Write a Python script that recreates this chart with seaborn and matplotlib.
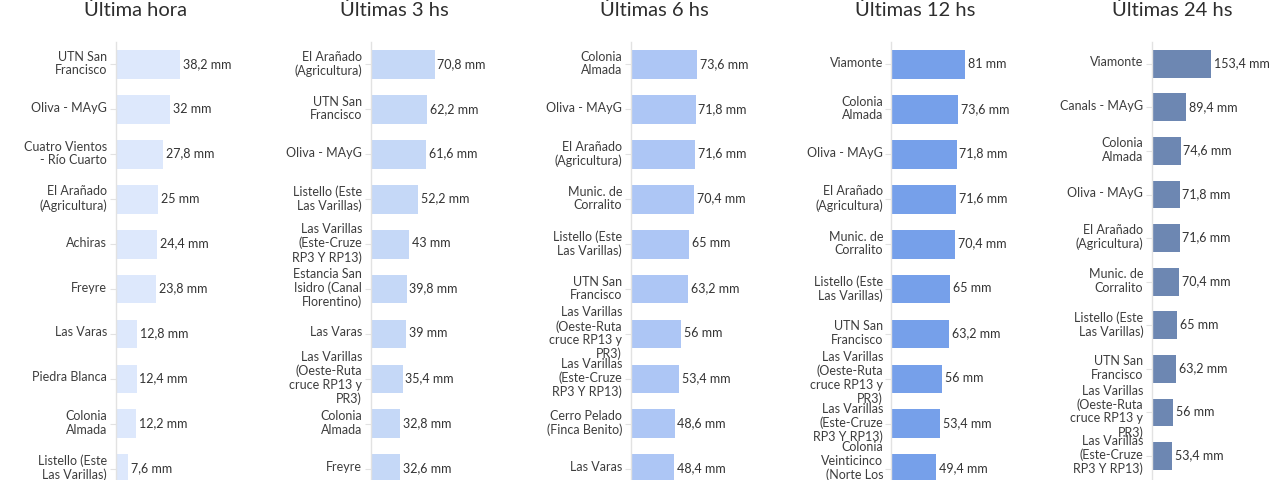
"""Rainfall ranking panels (mm) for several time windows."""
import matplotlib
matplotlib.use("Agg")
import matplotlib.pyplot as plt
import matplotlib.transforms as mtransforms
import seaborn as sns
import pandas as pd

# Data per panel
titles = ["Última hora", "Últimas 3 hs", "Últimas 6 hs", "Últimas 12 hs", "Últimas 24 hs"]

stations_1h = ["UTN San\nFrancisco", "Oliva - MAyG", "Cuatro Vientos\n- Río Cuarto",
               "El Arañado\n(Agricultura)", "Achiras", "Freyre", "Las Varas",
               "Piedra Blanca", "Colonia\nAlmada", "Listello (Este\nLas Varillas)"]
values_1h = [38.2, 32, 27.8, 25, 24.4, 23.8, 12.8, 12.4, 12.2, 7.6]

stations_3h = ["El Arañado\n(Agricultura)", "UTN San\nFrancisco", "Oliva - MAyG",
               "Listello (Este\nLas Varillas)", "Las Varillas\n(Este-Cruze\nRP3 Y RP13)",
               "Estancia San\nIsidro (Canal\nFlorentino)", "Las Varas",
               "Las Varillas\n(Oeste-Ruta\ncruce RP13 y\nPR3)", "Colonia\nAlmada", "Freyre"]
values_3h = [70.8, 62.2, 61.6, 52.2, 43, 39.8, 39, 35.4, 32.8, 32.6]

stations_6h = ["Colonia\nAlmada", "Oliva - MAyG", "El Arañado\n(Agricultura)",
               "Munic. de\nCorralito", "Listello (Este\nLas Varillas)", "UTN San\nFrancisco",
               "Las Varillas\n(Oeste-Ruta\ncruce RP13 y\nPR3)",
               "Las Varillas\n(Este-Cruze\nRP3 Y RP13)", "Cerro Pelado\n(Finca Benito)",
               "Las Varas"]
values_6h = [73.6, 71.8, 71.6, 70.4, 65, 63.2, 56, 53.4, 48.6, 48.4]

stations_12h = ["Viamonte", "Colonia\nAlmada", "Oliva - MAyG", "El Arañado\n(Agricultura)",
                "Munic. de\nCorralito", "Listello (Este\nLas Varillas)", "UTN San\nFrancisco",
                "Las Varillas\n(Oeste-Ruta\ncruce RP13 y\nPR3)",
                "Las Varillas\n(Este-Cruze\nRP3 Y RP13)",
                "Colonia\nVeinticinco\n(Norte Los\nSurgentes)"]
values_12h = [81, 73.6, 71.8, 71.6, 70.4, 65, 63.2, 56, 53.4, 49.4]

stations_24h = ["Viamonte", "Canals - MAyG", "Colonia\nAlmada", "Oliva - MAyG",
                "El Arañado\n(Agricultura)", "Munic. de\nCorralito",
                "Listello (Este\nLas Varillas)", "UTN San\nFrancisco",
                "Las Varillas\n(Oeste-Ruta\ncruce RP13 y\nPR3)",
                "Las Varillas\n(Este-Cruze\nRP3 Y RP13)"]
values_24h = [153.4, 89.4, 74.6, 71.8, 71.6, 70.4, 65, 63.2, 56, 53.4]

stations = [stations_1h, stations_3h, stations_6h, stations_12h, stations_24h]
values = [values_1h, values_3h, values_6h, values_12h, values_24h]
colors = ["#dde8fc", "#c5d8f7", "#adc6f5", "#76a0ea", "#6d87b2"]

sns.set_theme(style="white")
plt.rcParams["font.family"] = ["Lato", "DejaVu Sans"]

W, H = 1287, 480
fig = plt.figure(figsize=(W / 100, H / 100), dpi=100)

left_px = [115.5, 370.5, 630.5, 891.5, 1151.7]
title_px = [136, 394.5, 654, 915, 1172.5]
xmax = [80, 150, 150, 150, 350]
ybottom = [9.25, 9.25, 9.25, 9.25, 9.55]
top_px = 42
ax_w = 136

# nudge the station labels up a little, like the original
lift = mtransforms.ScaledTranslation(0, 2.5 / 100, fig.dpi_scale_trans)

for i in range(5):
    ax = fig.add_axes([left_px[i] / W, 0, ax_w / W, (H - top_px) / H])
    df = pd.DataFrame({"station": stations[i], "mm": values[i]})
    sns.barplot(data=df, y="station", x="mm", orient="h", color=colors[i],
                width=0.64, linewidth=0, saturation=1, ax=ax)
    ax.set_xlim(0, xmax[i])
    ax.set_ylim(ybottom[i], -0.5)
    ax.set_xlabel("")
    ax.set_ylabel("")
    ax.set_xticks([])
    for s in ["top", "right", "bottom"]:
        ax.spines[s].set_visible(False)
    ax.spines["left"].set_color("#e2e2e2")
    ax.spines["left"].set_linewidth(1)
    ax.tick_params(axis="y", left=True, length=4, width=0.8, color="#e2e2e2",
                   pad=2, labelsize=9, labelcolor="#3d3d3d")
    for lbl in ax.get_yticklabels():
        lbl.set_linespacing(1.15)
        lbl.set_transform(lbl.get_transform() + lift)

    for j, v in enumerate(values[i]):
        txt = f"{v:g}".replace(".", ",") + " mm"
        ax.annotate(txt, xy=(v, j), xytext=(2, 0.5), textcoords="offset points",
                    va="center", ha="left", fontsize=9, color="#333333",
                    annotation_clip=False)

    fig.text(title_px[i] / W, 1 - 10 / H, titles[i], ha="center", va="center",
             fontsize=14.5, color="#2e2e2e")

fig.savefig("out.png", dpi=100)
plt.close(fig)
